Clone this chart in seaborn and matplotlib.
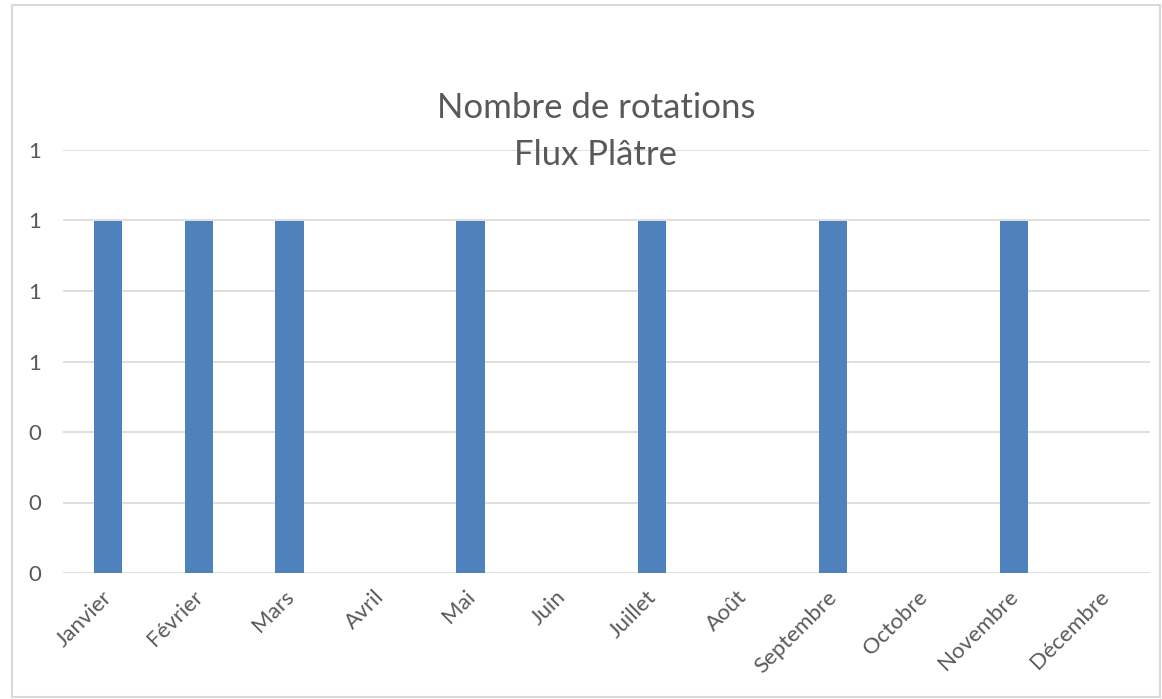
import matplotlib
matplotlib.use("Agg")
import matplotlib.pyplot as plt
import seaborn as sns
import pandas as pd
from matplotlib.ticker import FormatStrFormatter, MultipleLocator
from matplotlib.patches import Rectangle
import matplotlib.transforms as mtrans

months = ["Janvier", "Février", "Mars", "Avril", "Mai", "Juin", "Juillet",
          "Août", "Septembre", "Octobre", "Novembre", "Décembre"]
values = [1, 1, 1, 0, 1, 0, 1, 0, 1, 0, 1, 0]
title_lines = ["Nombre de rotations", "Flux Plâtre"]

sns.set_theme(style="white")
plt.rcParams['font.family'] = ['Lato', 'DejaVu Sans']

text_color = "#595959"
grid_color = "#D9D9D9"
bar_color = "#4F81BD"

fig = plt.figure(figsize=(11.62, 6.99), dpi=100)
fig.patches.append(Rectangle((12/1162, 1 - 697/699), 1148/1162, 692/699,
                             transform=fig.transFigure, fill=False,
                             edgecolor=grid_color, linewidth=1.5))
ax = fig.add_axes([63/1162, 1 - 573/699, (1150 - 63)/1162, (573 - 150)/699])

df = pd.DataFrame({"month": months, "value": values})
sns.barplot(data=df, x="month", y="value", color=bar_color, saturation=1,
            width=0.313, ax=ax, zorder=3, linewidth=0)

ax.set_ylim(0, 1.2)
ax.set_xlim(-0.5, len(months) - 0.5)
ax.yaxis.set_major_locator(MultipleLocator(0.2))
ax.yaxis.set_major_formatter(FormatStrFormatter('%.0f'))
ax.grid(axis='y', color=grid_color, linewidth=1.2, zorder=0)
ax.set_axisbelow(True)
for s in ax.spines.values():
    s.set_visible(False)
ax.set_xlabel("")
ax.set_ylabel("")
ax.tick_params(axis='y', length=0, labelsize=16, labelcolor=text_color, pad=16)
ax.tick_params(axis='x', length=0, labelsize=16, labelcolor=text_color, pad=10)
offset = mtrans.ScaledTranslation(-6/100, 0, fig.dpi_scale_trans)
for lab in ax.get_xticklabels():
    lab.set_rotation(45)
    lab.set_ha('right')
    lab.set_va('top')
    lab.set_rotation_mode('anchor')
    lab.set_transform(lab.get_transform() + offset)

fig.text(596/1162, 1 - 108/699, title_lines[0], ha='center', va='center',
         fontsize=25, color=text_color)
fig.text(596/1162, 1 - 155/699, title_lines[1], ha='center', va='center',
         fontsize=25, color=text_color)

fig.savefig("out.png", dpi=100)
